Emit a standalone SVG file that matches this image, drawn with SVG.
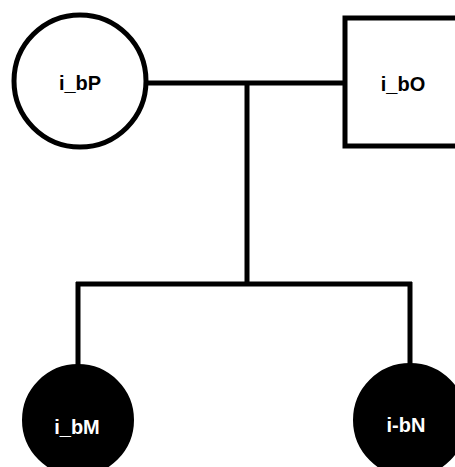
<svg xmlns="http://www.w3.org/2000/svg" width="455" height="467" viewBox="0 0 455 467">
<style>
.ln{stroke:#000;stroke-width:5;fill:none}
.open{fill:#fff;stroke:#000;stroke-width:5}
.filled{fill:#000;stroke:#000;stroke-width:2}
.t{font-family:"Liberation Sans",Arial,sans-serif;font-weight:bold;font-size:20px;text-anchor:middle}
.tw{fill:#fff}
</style>
<rect width="455" height="467" fill="#fff"/>
<g id="connectors">
<line class="ln" x1="148" y1="83" x2="346" y2="83"/>
<line class="ln" x1="247" y1="83" x2="247" y2="284"/>
<line class="ln" x1="76" y1="284" x2="412" y2="284"/>
<line class="ln" x1="78" y1="282" x2="78" y2="366"/>
<line class="ln" x1="410" y1="282" x2="410" y2="366"/>
</g>
<g id="i_bP">
<circle class="open" cx="80" cy="81" r="66"/>
<text class="t" x="80" y="90">i_bP</text>
</g>
<g id="i_bO">
<rect class="open" x="345" y="18" width="125" height="128"/>
<text class="t" x="403" y="91">i_bO</text>
</g>
<g id="i_bM">
<circle class="filled" cx="78" cy="420" r="55"/>
<text class="t tw" x="77" y="434">i_bM</text>
</g>
<g id="i-bN">
<circle class="filled" cx="410" cy="420" r="56"/>
<text class="t tw" x="406" y="432">i-bN</text>
</g>
</svg>
